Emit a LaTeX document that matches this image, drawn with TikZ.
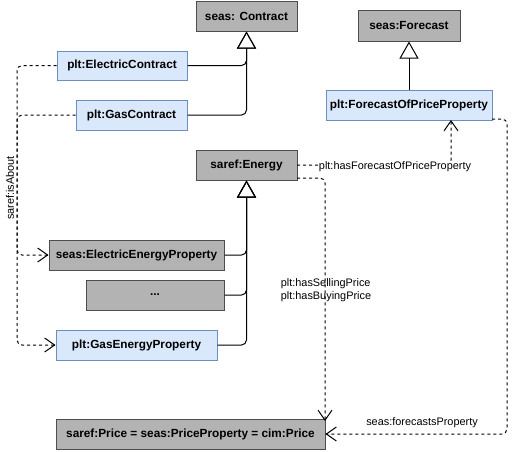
\documentclass[tikz,border=0pt]{standalone}
\usepackage{fontspec}
\setmainfont{Liberation Sans}
\usetikzlibrary{arrows.meta}
\definecolor{grayfill}{HTML}{B3B3B3}
\definecolor{grayline}{HTML}{4D4D4D}
\definecolor{bluefill}{HTML}{DAE8FC}
\definecolor{blueline}{HTML}{6C8EBF}
\begin{document}
\begin{tikzpicture}[x=1pt,y=-1pt,
  box/.style={draw, line width=1pt, inner sep=0pt, font=\fontsize{11.8}{14}\selectfont\bfseries},
  graybox/.style={box, fill=grayfill, draw=grayline},
  bluebox/.style={box, fill=bluefill, draw=blueline},
  inherit/.style={line width=1pt, rounded corners=5pt, -{Triangle[open,length=17pt,width=19pt]}},
  rel/.style={line width=1pt, dash pattern=on 3pt off 3pt, rounded corners=5pt},
  opentip/.style={line width=1pt, -{Straight Barb[length=10pt,width=14pt]}},
  lbl/.style={font=\fontsize{10.9}{13.5}\selectfont, inner sep=1pt}]
\useasboundingbox (0,0) rectangle (521,451);
% boxes
\node[graybox, minimum width=101pt, minimum height=30pt] (contract) at (246.5,16) {seas: Contract};
\node[graybox, minimum width=102pt, minimum height=31pt] (fcast) at (409,25.5) {seas:Forecast};
\node[bluebox, minimum width=130pt, minimum height=29pt] (elecC) at (122,65.5) {plt:ElectricContract};
\node[bluebox, minimum width=111pt, minimum height=30pt] (gasC) at (131.5,115) {plt:GasContract};
\node[bluebox, minimum width=166pt, minimum height=30pt] (fopp) at (409,105) {plt:ForecastOfPriceProperty};
\node[graybox, minimum width=101pt, minimum height=30pt] (energy) at (246.5,165) {saref:Energy};
\node[graybox, minimum width=175pt, minimum height=30pt] (eep) at (136.5,255) {seas:ElectricEnergyProperty};
\node[graybox, minimum width=138pt, minimum height=30pt] (dots) at (155,295) {...};
\node[bluebox, minimum width=161pt, minimum height=30pt] (gep) at (136.5,345) {plt:GasEnergyProperty};
\node[graybox, minimum width=269pt, minimum height=30pt] (price) at (190.5,434) {saref:Price = seas:PriceProperty = cim:Price};
% inheritance
\draw[inherit] (elecC.east) -- (elecC.east -| contract.south) -- (contract.south);
\draw[inherit] (gasC.east) -- (gasC.east -| contract.south) -- (contract.south);
\draw[inherit] (fopp.north) -- (fcast.south);
\draw[inherit] (eep.east) -- (eep.east -| energy.south) -- (energy.south);
\draw[inherit] (dots.east) -- (dots.east -| energy.south) -- (energy.south);
\draw[inherit] (gep.east) -- (gep.east -| energy.south) -- (energy.south);
% relations
\coordinate (la) at (17,0);
\draw[rel] (elecC.west) -- (elecC.west -| la) -- (eep.west -| la) -- (eep.west);
\draw[opentip] ([xshift=-2pt]eep.west) -- (eep.west);
\draw[rel] (gasC.west) -- (gasC.west -| la) -- (gep.west -| la) -- (gep.west);
\draw[opentip] ([xshift=-2pt]gep.west) -- (gep.west);
\node[lbl, rotate=90] (isabout) at (10,188) {saref:isAbout};

\coordinate (e1) at (297,165);
\coordinate (f1) at (451,120);
\draw[rel] (e1) -- (e1 -| f1) -- (f1);
\draw[opentip] ([yshift=-2pt]f1) -- (f1);
\node[lbl, fill=white] (hasfc) at (395,167) {plt:hasForecastOfPriceProperty};

\coordinate (e2) at (297,178);
\coordinate (p1) at (325,421);
\draw[rel] (e2) -- (e2 -| p1) -- (p1);
\draw[opentip] ([yshift=2pt]p1) -- (p1);
\node[lbl, align=left] (sellbuy) at (326,290) {plt:hasSellingPrice\\plt:hasBuyingPrice};

\coordinate (f2) at (492,119);
\coordinate (r1) at (507,0);
\draw[rel] (f2) -- (f2 -| r1) -- (price.east -| r1) -- (price.east);
\draw[opentip] ([xshift=2pt]price.east) -- (price.east);
\node[lbl] (fcp) at (422,423) {seas:forecastsProperty};
\end{tikzpicture}
\end{document}
